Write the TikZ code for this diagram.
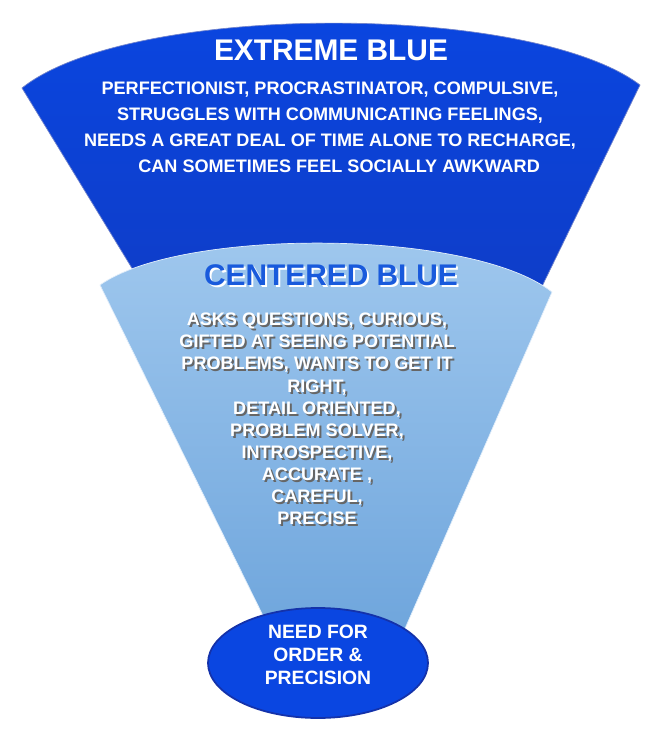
\documentclass[tikz,border=0pt]{standalone}
\usepackage{fontspec}
\setmainfont{Liberation Sans}
\definecolor{deepblue}{RGB}{10,70,225}
\definecolor{darkblue}{RGB}{20,50,170}
\definecolor{paleblue}{RGB}{160,200,238}
\definecolor{midblue}{RGB}{110,165,220}
\definecolor{titleblue}{RGB}{25,90,220}
\tikzset{
  bodytext/.style={text=white, font=\bfseries\fontsize{10.3}{14.8}\selectfont, align=center},
  innertext/.style={text=white, font=\bfseries\fontsize{10.3}{12.6}\selectfont, align=center},
  titletext/.style={font=\bfseries\fontsize{17}{20}\selectfont}
}
\begin{document}
\begin{tikzpicture}[x=0.02cm,y=-0.02cm]
\useasboundingbox (0,0) rectangle (651,732);
% outer fan
\shade [top color=deepblue, bottom color=darkblue, draw=darkblue!60]
  (22,88) .. controls (130,2) and (530,2) .. (640,85) -- (365,650) -- cycle;
% inner fan
\shade [top color=paleblue, bottom color=midblue, draw=white!70!paleblue]
  (100,285) .. controls (180,228) and (470,228) .. (552,292) -- (400,640) -- (275,640) -- cycle;
\node [titletext, text=white] (xtitle) at (331,50) {EXTREME BLUE};
\node [bodytext] (xbody) at (330,127) {PERFECTIONIST, PROCRASTINATOR, COMPULSIVE,\\
  STRUGGLES WITH COMMUNICATING FEELINGS,\\
  NEEDS A GREAT DEAL OF TIME ALONE TO RECHARGE,\\
  \hspace{1em}CAN SOMETIMES FEEL SOCIALLY AWKWARD};
\node [titletext, text=white] at (333,277) {CENTERED BLUE};
\node [titletext, text=titleblue] (ctitle) at (331,275) {CENTERED BLUE};
\node [innertext, text=black!60] at (319,421) {ASKS QUESTIONS, CURIOUS,\\
  GIFTED AT SEEING POTENTIAL\\ PROBLEMS, WANTS TO GET IT\\ RIGHT,\\
  DETAIL ORIENTED,\\ PROBLEM SOLVER,\\ INTROSPECTIVE,\\ ACCURATE ,\\ CAREFUL,\\ PRECISE};
\node [innertext] (cbody) at (317,419) {ASKS QUESTIONS, CURIOUS,\\
  GIFTED AT SEEING POTENTIAL\\ PROBLEMS, WANTS TO GET IT\\ RIGHT,\\
  DETAIL ORIENTED,\\ PROBLEM SOLVER,\\ INTROSPECTIVE,\\ ACCURATE ,\\ CAREFUL,\\ PRECISE};
% base
\draw [fill=deepblue, draw=darkblue, line width=1pt] (318,663) ellipse (110 and 55);
\node [bodytext, font=\bfseries\fontsize{11}{13}\selectfont] (need) at (318,655) {NEED FOR\\ ORDER \&\\ PRECISION};
\end{tikzpicture}
\end{document}
